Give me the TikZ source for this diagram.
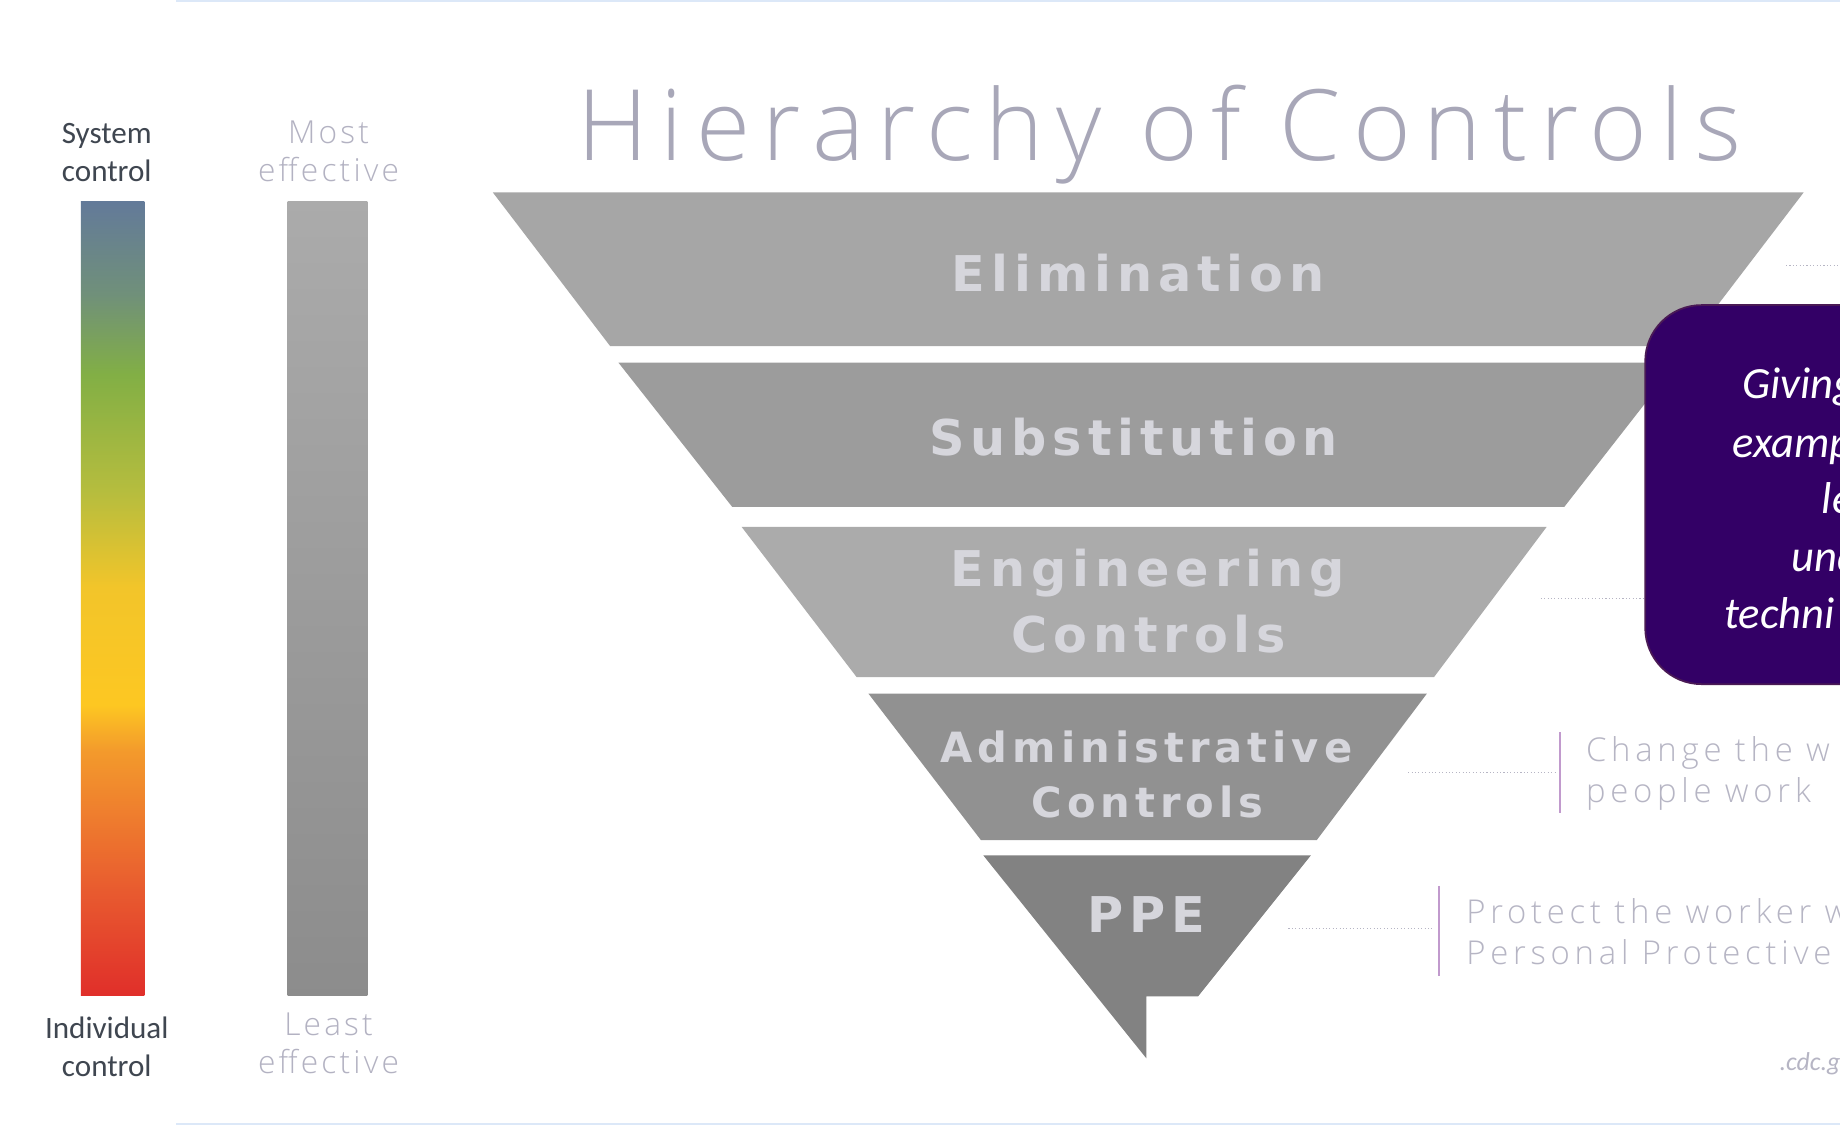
\documentclass[tikz,border=0pt]{standalone}
\usepackage{fontspec}
\setmainfont{Carlito}
\newfontfamily\lightfont{Open Sans Light}[LetterSpace=10]
\newfontfamily\titlefont{Open Sans Light}[LetterSpace=13]
\newfontfamily\notefont{Open Sans Light}[LetterSpace=14.5]
\newfontfamily\layerfont{DejaVu Sans}[LetterSpace=12]

% page and scale colours
\definecolor{pageRule}{HTML}{DCE8F8}
\definecolor{sideInk}{HTML}{3F4650}
\definecolor{paleInk}{HTML}{B3B2C2}
\definecolor{titleInk}{HTML}{A8A7B8}
\definecolor{noteInk}{HTML}{B6B5C4}
\definecolor{layerInk}{HTML}{D6D6DC}
\definecolor{boxFill}{HTML}{330066}
\definecolor{boxEdge}{HTML}{4A1A55}
% control bar stops
\definecolor{cbA}{HTML}{E02F2A}
\definecolor{cbB}{HTML}{E85A2F}
\definecolor{cbC}{HTML}{EE7A2E}
\definecolor{cbD}{HTML}{F39A2C}
\definecolor{cbE}{HTML}{FDC722}
\definecolor{cbF}{HTML}{F2C52A}
\definecolor{cbG}{HTML}{B6BD3E}
\definecolor{cbH}{HTML}{82AF45}
\definecolor{cbI}{HTML}{70907A}
\definecolor{cbJ}{HTML}{637A99}

\pgfdeclareverticalshading{ctrlbar}{100bp}{%
  color(0bp)=(cbA); color(25bp)=(cbA); color(31.5bp)=(cbB);
  color(35.9bp)=(cbC); color(40.4bp)=(cbD); color(43.3bp)=(cbE);
  color(50.7bp)=(cbF); color(56.7bp)=(cbG); color(64.1bp)=(cbH);
  color(69.2bp)=(cbI); color(75bp)=(cbJ); color(100bp)=(cbJ)}

\begin{document}
\begin{tikzpicture}[x=1pt,y=-1pt,
  sidelabel/.style={align=center,text=sideInk,font=\fontsize{26.5}{33}\selectfont},
  efflabel/.style={align=center,text=paleInk,font=\lightfont\fontsize{27}{32}\selectfont},
  layertext/.style={anchor=base,text=layerInk,font=\layerfont\bfseries\fontsize{42}{52}\selectfont},
  smalllayer/.style={layertext,font=\layerfont\bfseries\fontsize{35.5}{47}\selectfont},
  boxtext/.style={anchor=base west,text=white,font=\itshape\fontsize{38}{46}\selectfont},
  notetext/.style={anchor=base west,text=noteInk,font=\notefont\fontsize{28}{35}\selectfont},
  guide/.style={draw=noteInk,dotted,line width=0.9pt},
  bracket/.style={draw=noteInk!85!magenta,line width=1.6pt}]

\useasboundingbox (0,0) rectangle (1568,959);
\fill[white] (0,0) rectangle (1568,959);
\clip (0,0) rectangle (1568,959);

% thin page rules
\draw[pageRule,line width=1.6pt] (150,0.8) -- (1568,0.8);
\draw[pageRule,line width=1.6pt] (150,958.2) -- (1568,958.2);

% control scale
\node[sidelabel] (sysTxt) at (91,130) {System\\control};
\node[sidelabel] (indTxt) at (91,892) {Individual\\control};
\shade[shading=ctrlbar] (69,172) rectangle (123,848);

% effectiveness scale
\node[efflabel] (mostTxt) at (280,129) {Most\\effective};
\node[efflabel] (leastTxt) at (280,889) {Least\\effective};
\fill[top color=black!33,bottom color=black!45] (245,172) rectangle (313,848);

% title
\node[anchor=base,text=titleInk,font=\titlefont\fontsize{84}{90}\selectfont] (title) at (988,137) {Hierarchy of Controls};

% pyramid layers
\fill[black!35] (420,164) -- (1537,164) -- (1437,295) -- (520,295) -- cycle;
\fill[black!39] (527,309) -- (1429,309) -- (1333,432) -- (624,432) -- cycle;
\fill[black!33] (632,449) -- (1318,449) -- (1222,577) -- (730,577) -- cycle;
\fill[black!43] (740,591) -- (1216,591) -- (1122,716) -- (836,716) -- cycle;
\fill[black!49] (838,729) -- (1117,729) -- (1021,849) -- (977,849) -- (977,902) -- cycle;

\node[layertext] (elimTxt) at (970,248) {Elimination};
\node[layertext] (subTxt) at (966,388) {Substitution};
\node[layertext] (engTxtA) at (978,500) {Engineering};
\node[layertext] (engTxtB) at (979,556) {Controls};
\node[smalllayer] (admTxtA) at (977,650) {Administrative};
\node[smalllayer] (admTxtB) at (978,697) {Controls};
\node[layertext] (ppeTxt) at (977,795) {PPE};

% guide lines from the layers
\coordinate (elimA) at (1522,226);
\coordinate (elimB) at (1568,226);
\coordinate (engA) at (1313,510);
\coordinate (engB) at (1402,510);
\coordinate (admA) at (1200,658);
\coordinate (admB) at (1325,658);
\coordinate (ppeA) at (1098,791.5);
\coordinate (ppeB) at (1222,791.5);
\draw[guide] (elimA) -- (elimB);
\draw[guide] (engA) -- (engB);
\draw[guide] (admA) -- (admB);
\draw[guide] (ppeA) -- (ppeB);

% note brackets and texts
\coordinate (admTop) at (1329,624);
\coordinate (admBot) at (1329,693);
\coordinate (ppeTop) at (1226,755);
\coordinate (ppeBot) at (1226,832);
\draw[bracket] (admTop) -- (admBot);
\draw[bracket] (ppeTop) -- (ppeBot);
\node[notetext] (admNote1) at (1348,649) {Change the w};
\node[notetext] (admNote2) at (1348,684) {people work};
\node[notetext] (ppeNote1) at (1246,787) {Protect the worker w};
\node[notetext] (ppeNote2) at (1246,822) {Personal Protective E};

% callout box
\draw[fill=boxFill,draw=boxEdge,line width=1.5pt,rounded corners=48pt] (1402,260) rectangle (1640,583);
\node[boxtext] (boxL1) at (1481,340) {Giving};
\node[boxtext] (boxL2) at (1473,390) {examp};
\node[boxtext] (boxL3) at (1549,438) {le};
\node[boxtext] (boxL4) at (1523,487) {und};
\node[boxtext] (boxL5) at (1466,536) {techni};

% source
\node[anchor=base west,text=noteInk,font=\itshape\fontsize{22}{26}\selectfont] (src) at (1513,912) {.cdc.g};
\end{tikzpicture}
\end{document}
